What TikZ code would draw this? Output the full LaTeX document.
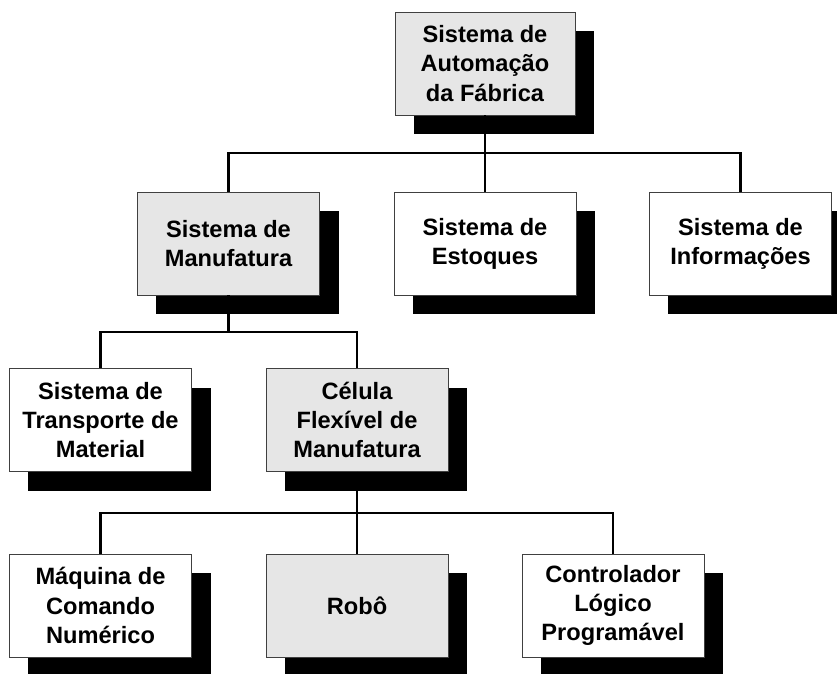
\documentclass[tikz,border=0pt]{standalone}
\usepackage{fontspec}
\setmainfont{Liberation Sans}
\usetikzlibrary{shadows}
\definecolor{boxgray}{RGB}{230,230,230}
\tikzset{
    block/.style = {draw=black!75, line width=0.6pt, rectangle, fill=white,
        minimum width=4.55cm,
        minimum height=2.575cm, align=center,
        font=\fontsize{16.8}{20.7}\selectfont\bfseries,
        drop shadow={shadow xshift=0.475cm, shadow yshift=-0.475cm, fill=black, opacity=1}},
    grayblock/.style = {block, fill=boxgray},
    conn/.style = {draw, line width=1.6pt}
}

\begin{document}
\begin{tikzpicture}[x=0.025cm, y=-0.025cm]
                \useasboundingbox (0,0) rectangle (837,673);
                % levels
                \node[grayblock, minimum width=4.5cm] (fab) at (485,63.5) {Sistema de\\Automação\\da Fábrica};
                \node[grayblock] (manuf) at (228.5,243.5) {Sistema de\\Manufatura};
                \node[block] (estoq) at (485,243.5) {Sistema de\\Estoques};
                \node[block] (info) at (740.5,243.5) {Sistema de\\Informações};
                \node[block] (transp) at (100.5,420) {Sistema de\\Transporte de\\Material};
                \node[grayblock] (celula) at (357,420) {Célula\\Flexível de\\Manufatura};
                \node[block] (maq) at (100.5,605.5) {Máquina de\\Comando\\Numérico};
                \node[grayblock] (robo) at (357,605.5) {Robô};
                \node[block] (clp) at (613,605.5) {Controlador\\Lógico\\Programável};
                % buses
                \coordinate (bus1) at (485,153);
                \coordinate (bus2) at (228.5,332);
                \coordinate (bus3) at (357,513);
                \draw[conn] (fab.south) -- (estoq.north);
                \draw[conn] (manuf.north) |- (bus1) -| (info.north);
                \draw[conn] (manuf.south) -- (bus2);
                \draw[conn] (transp.north) |- (bus2) -| (celula.north);
                \draw[conn] (celula.south) -- (robo.north);
                \draw[conn] (maq.north) |- (bus3) -| (clp.north);
            \end{tikzpicture}
\end{document}
